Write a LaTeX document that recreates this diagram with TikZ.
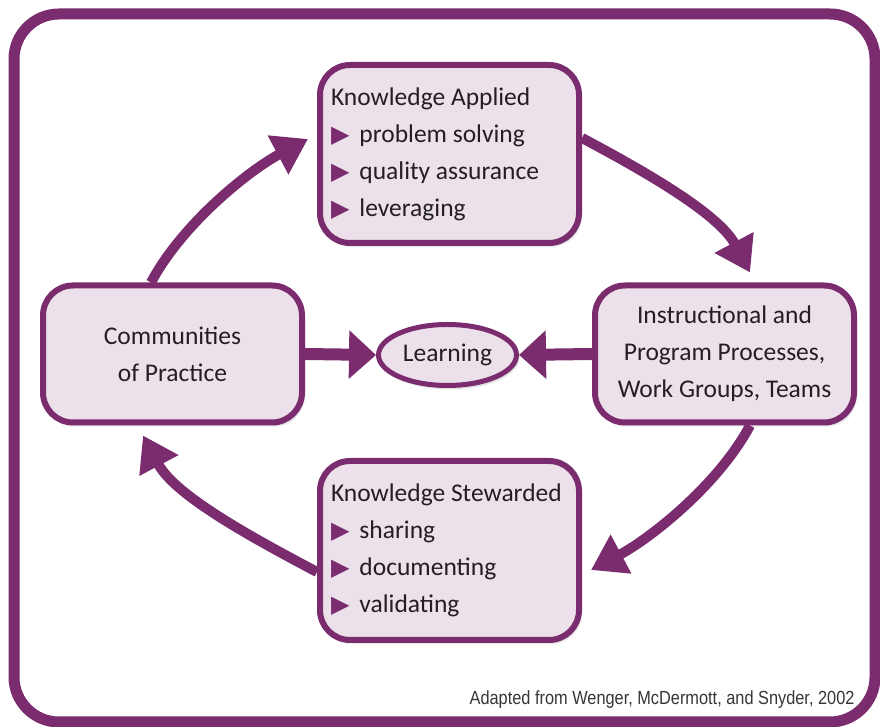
\documentclass[tikz,border=0pt]{standalone}
\usepackage{fontspec}
\setmainfont{Carlito}
\newfontfamily\symfont{DejaVu Sans}
\newfontfamily\notefont[FakeStretch=0.86]{Liberation Sans}
\usetikzlibrary{arrows.meta, shapes.geometric, shadows.blur}
\definecolor{plum}{HTML}{7A2C6F}
\definecolor{lilac}{HTML}{ECE1EB}
\definecolor{ink}{HTML}{231F20}
\tikzstyle{every node}=[text=ink, font=\fontsize{25.5}{37}\selectfont]
\tikzstyle{stage}=[draw=plum, fill=lilac, line width=6pt, rounded corners=30pt, inner xsep=11pt, text width=237pt,
    align=flush left, blur shadow={shadow xshift=2pt, shadow yshift=-3pt, shadow opacity=22}]
\tikzstyle{hub}=[stage, inner xsep=4pt, text width=251pt, align=flush center]
\tikzstyle{flow}=[draw=plum, line width=10pt, -{Triangle[length=34pt, width=42pt]}]
\tikzstyle{push}=[draw=plum, line width=12pt, -{Triangle[length=27pt, width=47pt]}]
\newcommand{\tick}{{\symfont\color{plum}\fontsize{24}{24}\selectfont ▶}\hspace{10pt}}

\begin{document}
\begin{tikzpicture}[x=1pt, y=1pt]
    \useasboundingbox (0,0) rectangle (880,727);
% Frame
    \draw[plum, line width=11pt, rounded corners=45pt] (14,5) rectangle (875,713);
% Stages
    \node[stage, minimum height=178pt] (applied) at (449.5,573)
        {Knowledge Applied\\\tick problem solving\\\tick quality assurance\\\tick leveraging};
    \node[hub, minimum height=137pt] (practice) at (172.5,373)
        {Communities\\of Practice};
    \node[hub, minimum height=137pt] (process) at (724.5,373)
        {Instructional and\\Program Processes,\\Work Groups, Teams};
    \node[stage, minimum height=179pt] (stewarded) at (449.5,176.5)
        {Knowledge Stewarded\\\tick sharing\\\tick documenting\\\tick validating};
% Learning in the middle
    \node[ellipse, draw=plum, fill=lilac, line width=5pt, minimum width=138pt, minimum height=61pt, inner sep=0pt,
        blur shadow={shadow xshift=2pt, shadow yshift=-3pt, shadow opacity=22}] (learn) at (447.5,372) {Learning};
    \draw[push] (practice.east) -- (learn.west);
    \draw[push] (process.west) -- (learn.east);
% Cycle
    \draw[flow] ([xshift=-21.5pt]practice.north) to[out=62, in=208, looseness=0.8] ([xshift=-9pt, yshift=15pt]applied.west);
    \draw[flow] ([yshift=16pt]applied.east) to[out=-28, in=118, looseness=0.8] ([xshift=25.5pt, yshift=10pt]process.north);
    \draw[flow] ([xshift=25.5pt]process.south) to[out=242, in=28, looseness=0.8] ([xshift=9pt, yshift=-19.5pt]stewarded.east);
    \draw[flow] ([yshift=-21.5pt]stewarded.west) to[out=152, in=298, looseness=0.8] ([xshift=-29.5pt, yshift=-10pt]practice.south);
% Source
    \node[font=\notefont\fontsize{19}{19}\selectfont, text=ink!90, anchor=base east] (source) at (858,22)
        {Adapted from Wenger, McDermott, and Snyder, 2002};
\end{tikzpicture}
\end{document}
